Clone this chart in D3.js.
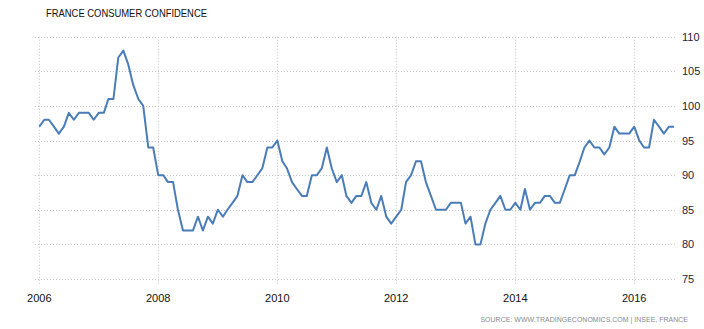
<!DOCTYPE html>
<html>
<head>
<meta charset="utf-8">
<script src="https://cdn.jsdelivr.net/npm/d3@7"></script>
<style>
  body { margin: 0; background: #fff; }
  svg { display: block; font-family: "Liberation Sans", Arial, sans-serif; }
</style>
</head>
<body>
<div id="chart"></div>
<script>
// monthly values, Jan 2006 - Sep 2016
const startMonth = "2006-01";
const confidence = [
  97, 98, 98, 97, 96, 97, 99, 98, 99, 99, 99, 98,      // 2006
  99, 99, 101, 101, 107, 108, 106, 103, 101, 100, 94, 94, // 2007
  90, 90, 89, 89, 85, 82, 82, 82, 84, 82, 84, 83,      // 2008
  85, 84, 85, 86, 87, 90, 89, 89, 90, 91, 94, 94,      // 2009
  95, 92, 91, 89, 88, 87, 87, 90, 90, 91, 94, 91,      // 2010
  89, 90, 87, 86, 87, 87, 89, 86, 85, 87, 84, 83,      // 2011
  84, 85, 89, 90, 92, 92, 89, 87, 85, 85, 85, 86,      // 2012
  86, 86, 83, 84, 80, 80, 83, 85, 86, 87, 85, 85,      // 2013
  86, 85, 88, 85, 86, 86, 87, 87, 86, 86, 88, 90,      // 2014
  90, 92, 94, 95, 94, 94, 93, 94, 97, 96, 96, 96,      // 2015
  97, 95, 94, 94, 98, 97, 96, 97, 97                   // 2016
];
const xTickYears = [2006, 2008, 2010, 2012, 2014, 2016];
const yTicks = [75, 80, 85, 90, 95, 100, 105, 110];

const width = 704, height = 329;
const parseMonth = d3.timeParse("%Y-%m");
const start = parseMonth(startMonth);
const data = confidence.map((v, i) => ({ date: d3.timeMonth.offset(start, i), value: v }));

const svg = d3.select("#chart").append("svg")
    .attr("width", width)
    .attr("height", height);

const x = d3.scaleTime()
    .domain(d3.extent(data, d => d.date))
    .range([39.3, 674]);

const y = d3.scaleLinear()
    .domain([75, 110])
    .range([279, 36.7]);

const gridLeft = 35, gridRight = 676;

// horizontal grid
svg.append("g")
  .selectAll("line")
  .data(yTicks)
  .enter()
  .append("line")
    .attr("x1", gridLeft)
    .attr("x2", gridRight)
    .attr("y1", d => Math.round(y(d)) + 0.5)
    .attr("y2", d => Math.round(y(d)) + 0.5)
    .attr("stroke", "#c4c4c4")
    .attr("stroke-dasharray", "1,2");

// vertical grid
svg.append("g")
  .selectAll("line")
  .data(xTickYears)
  .enter()
  .append("line")
    .attr("x1", d => Math.round(x(new Date(d, 0, 1))) + 0.5)
    .attr("x2", d => Math.round(x(new Date(d, 0, 1))) + 0.5)
    .attr("y1", y(110))
    .attr("y2", y(75) + 5)
    .attr("stroke", "#c4c4c4")
    .attr("stroke-dasharray", "1,2");

// y labels on the right
svg.append("g")
  .selectAll("text")
  .data(yTicks)
  .enter()
  .append("text")
    .attr("x", 682)
    .attr("y", d => y(d))
    .attr("dy", "0.36em")
    .attr("font-size", 11)
    .attr("fill", "#1e1e3a")
    .text(d => d);

// x labels
svg.append("g")
  .selectAll("text")
  .data(xTickYears)
  .enter()
  .append("text")
    .attr("x", d => x(new Date(d, 0, 1)))
    .attr("y", 302)
    .attr("text-anchor", "middle")
    .attr("font-size", 11)
    .attr("fill", "#111")
    .text(d => d);

// the line
const line = d3.line()
    .x(d => x(d.date))
    .y(d => y(d.value));

svg.append("path")
    .datum(data)
    .attr("d", line)
    .attr("fill", "none")
    .attr("stroke", "#4a7db8")
    .attr("stroke-width", 2)
    .attr("stroke-linejoin", "round");

// title
svg.append("text")
    .attr("x", 46)
    .attr("y", 17)
    .attr("font-size", 10.5)
    .attr("fill", "#111")
    .attr("textLength", 161)
    .attr("lengthAdjust", "spacingAndGlyphs")
    .text("FRANCE CONSUMER CONFIDENCE");

// source
svg.append("text")
    .attr("x", 688)
    .attr("y", 322)
    .attr("text-anchor", "end")
    .attr("font-size", 7)
    .attr("fill", "#8a8a8a")
    .text("SOURCE: WWW.TRADINGECONOMICS.COM | INSEE, FRANCE");
</script>
</body>
</html>
